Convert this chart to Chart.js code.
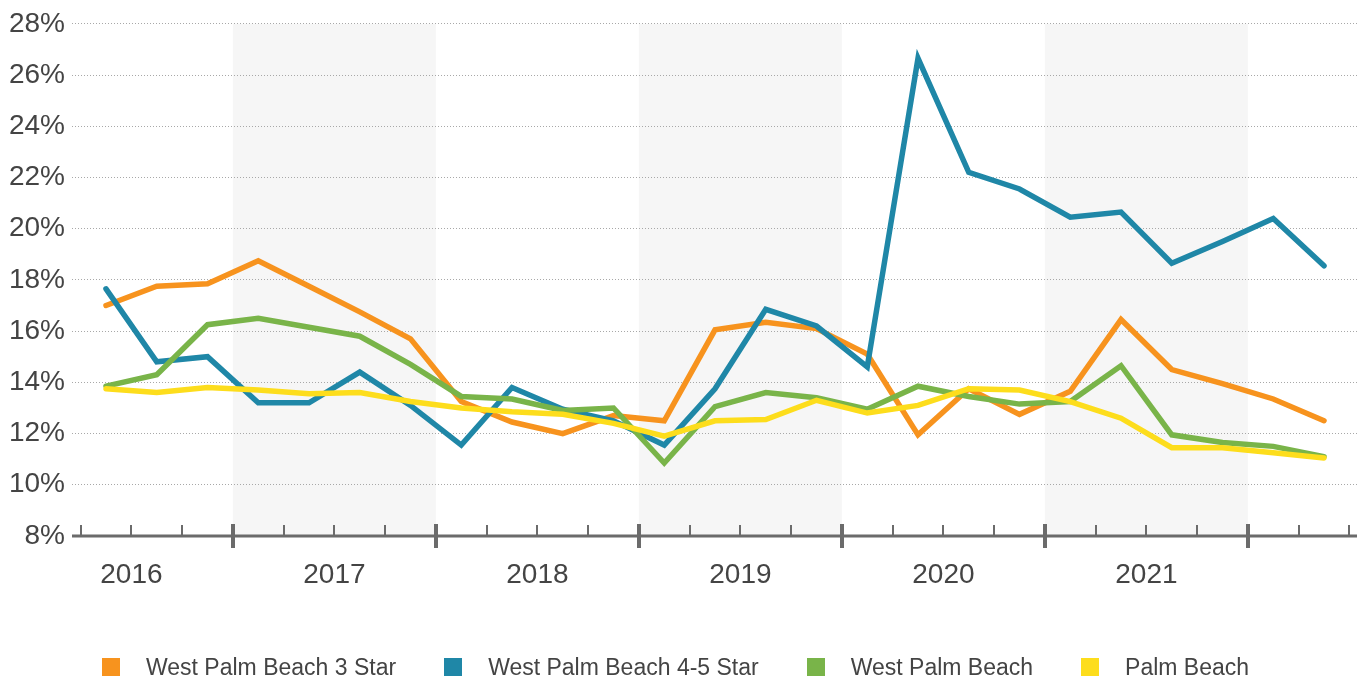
<!DOCTYPE html>
<html>
<head>
<meta charset="utf-8">
<script src="https://cdn.jsdelivr.net/npm/chart.js@4/dist/chart.umd.min.js"></script>
<style>
  html, body { margin: 0; padding: 0; background: #fff; }
  #wrap { position: relative; width: 1363px; height: 682px; }
  #chart { position: absolute; left: 0; top: 0; }
  #legend {
    position: absolute; top: 655px; left: 102px;
    display: flex; align-items: center;
    font: 23px "Liberation Sans", Arial, sans-serif; color: #444;
    line-height: 24px; white-space: nowrap;
  }
  .item { display: flex; align-items: center; margin-right: 48px; }
  .box { width: 18px; height: 18px; margin-right: 26px; }
</style>
</head>
<body>
<div id="wrap">
  <canvas id="chart" width="1363" height="682"></canvas>
  <div id="legend"></div>
</div>
<script>
// Quarterly periods, Q2 2016 through Q2 2022
const quarters = [
  '2016 Q2', '2016 Q3', '2016 Q4',
  '2017 Q1', '2017 Q2', '2017 Q3', '2017 Q4',
  '2018 Q1', '2018 Q2', '2018 Q3', '2018 Q4',
  '2019 Q1', '2019 Q2', '2019 Q3', '2019 Q4',
  '2020 Q1', '2020 Q2', '2020 Q3', '2020 Q4',
  '2021 Q1', '2021 Q2', '2021 Q3', '2021 Q4',
  '2022 Q1', '2022 Q2'
];

// Year labels on the x axis, and the years drawn with a shaded band
const yearLabels = ['2016', '2017', '2018', '2019', '2020', '2021'];
const shadedYears = ['2017', '2019', '2021'];

// Percent values per series
const wpb3Star = [17.0, 17.75, 17.85, 18.75, 17.75, 16.75, 15.7, 13.25, 12.45, 12.0, 12.7, 12.5, 16.05, 16.35, 16.1, 15.1, 11.95, 13.75, 12.75, 13.65, 16.45, 14.5, 13.95, 13.35, 12.5];
const wpb45Star = [17.65, 14.8, 15.0, 13.2, 13.2, 14.4, 13.1, 11.55, 13.8, 12.95, 12.5, 11.55, 13.75, 16.85, 16.2, 14.6, 26.65, 22.2, 21.55, 20.45, 20.65, 18.65, 19.5, 20.4, 18.55];
const wpbAll = [13.85, 14.3, 16.25, 16.5, 16.15, 15.8, 14.7, 13.45, 13.35, 12.9, 13.0, 10.85, 13.05, 13.6, 13.4, 12.95, 13.85, 13.45, 13.15, 13.25, 14.65, 11.95, 11.65, 11.5, 11.1];
const palmBeach = [13.75, 13.6, 13.8, 13.7, 13.55, 13.6, 13.25, 13.0, 12.85, 12.75, 12.4, 11.9, 12.5, 12.55, 13.3, 12.8, 13.1, 13.75, 13.7, 13.25, 12.6, 11.45, 11.45, 11.25, 11.05];

// Y axis range and tick step (percent)
const yMin = 8, yMax = 28, yStep = 2;

const seriesNames = ['West Palm Beach 3 Star', 'West Palm Beach 4-5 Star', 'West Palm Beach', 'Palm Beach'];
const seriesColors = ['#F7931E', '#1F87A7', '#79B449', '#FDDD1C'];
const seriesValues = [wpb3Star, wpb45Star, wpbAll, palmBeach];

const baseYear = 2016;
// Position on a continuous quarter axis: 0 = start of 2016, point at the middle of its quarter
function quarterPos(label) {
  const [y, q] = label.split(' Q');
  return (Number(y) - baseYear) * 4 + (Number(q) - 1) + 0.5;
}
function yearStart(year) { return (Number(year) - baseYear) * 4; }

const FONT = '"Liberation Sans", Arial, sans-serif';
const TEXT = '#444';

const datasets = seriesNames.map((name, i) => ({
  label: name,
  data: quarters.map((q, j) => ({ x: quarterPos(q), y: seriesValues[i][j] })),
  borderColor: seriesColors[i],
  backgroundColor: seriesColors[i],
  borderWidth: 5.5,
  pointRadius: 0,
  tension: 0,
  borderCapStyle: 'round',
  fill: false,
  order: seriesNames.length - i   // later series drawn on top
}));

// Shaded year bands behind the grid, and the quarter/year axis with tick marks
const yearAxisPlugin = {
  id: 'yearAxis',
  beforeDraw(chart) {
    const { ctx, chartArea, scales: { x } } = chart;
    ctx.save();
    ctx.fillStyle = '#F6F6F6';
    shadedYears.forEach(yr => {
      const x0 = x.getPixelForValue(yearStart(yr));
      const x1 = x.getPixelForValue(yearStart(yr) + 4);
      ctx.fillRect(x0, chartArea.top, x1 - x0, chartArea.bottom - chartArea.top);
    });
    ctx.restore();
  },
  afterDraw(chart) {
    const { ctx, chartArea, scales: { x } } = chart;
    const yAxis = chartArea.bottom;
    ctx.save();
    ctx.strokeStyle = '#6B6B6B';
    ctx.lineWidth = 3;
    ctx.beginPath();
    ctx.moveTo(chartArea.left, yAxis);
    ctx.lineTo(chartArea.right, yAxis);
    ctx.stroke();
    for (let q = Math.ceil(x.min); q <= Math.floor(x.max); q++) {
      const px = Math.round(x.getPixelForValue(q));
      ctx.beginPath();
      if (q % 4 === 0) {
        ctx.lineWidth = 4;
        ctx.moveTo(px, yAxis - 12);
        ctx.lineTo(px, yAxis + 12);
      } else {
        ctx.lineWidth = 2;
        ctx.moveTo(px, yAxis - 11);
        ctx.lineTo(px, yAxis);
      }
      ctx.stroke();
    }
    ctx.restore();
  }
};

new Chart(document.getElementById('chart'), {
  type: 'line',
  data: { datasets },
  plugins: [yearAxisPlugin],
  options: {
    responsive: false,
    animation: false,
    devicePixelRatio: 1,
    layout: { padding: { left: 0, right: 6, top: 22, bottom: 96 } },
    plugins: { legend: { display: false }, tooltip: { enabled: false } },
    scales: {
      x: {
        type: 'linear',
        min: 0.83,
        max: 26.15,
        afterBuildTicks(scale) {
          scale.ticks = yearLabels.map(y => ({ value: yearStart(y) + 2 }));
        },
        afterFit(scale) { scale.height = 50; },
        ticks: {
          autoSkip: false,
          maxRotation: 0,
          padding: 14,
          color: TEXT,
          font: { family: FONT, size: 28 },
          callback: v => String(baseYear + Math.floor(v / 4))
        },
        grid: { display: false },
        border: { display: false }
      },
      y: {
        min: yMin,
        max: yMax,
        afterFit(scale) { scale.width = 72; },
        ticks: {
          stepSize: yStep,
          padding: 7,
          color: TEXT,
          font: { family: FONT, size: 28 },
          callback: v => v + '%'
        },
        grid: { color: '#A8A8A8', lineWidth: 1, drawTicks: false, borderDash: [1, 2] },
        border: { display: false, dash: [1, 2] }
      }
    }
  }
});

// Legend row built from the series names and colours
const legend = document.getElementById('legend');
seriesNames.forEach((name, i) => {
  const item = document.createElement('div');
  item.className = 'item';
  const box = document.createElement('span');
  box.className = 'box';
  box.style.background = seriesColors[i];
  const txt = document.createElement('span');
  txt.textContent = name;
  item.appendChild(box);
  item.appendChild(txt);
  legend.appendChild(item);
});
</script>
</body>
</html>
